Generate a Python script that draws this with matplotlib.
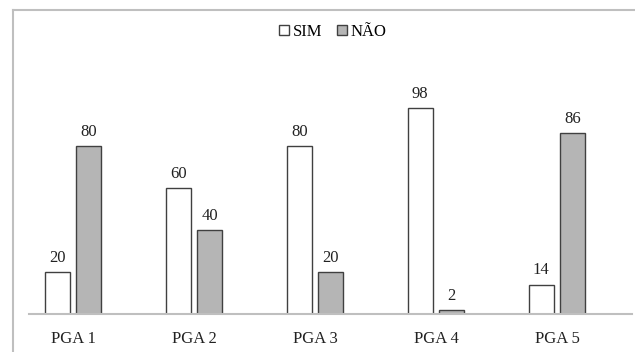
import matplotlib.pyplot as plt
import numpy as np
from matplotlib.patches import Rectangle
from matplotlib.lines import Line2D

categories = ["PGA 1", "PGA 2", "PGA 3", "PGA 4", "PGA 5"]
sim = [20, 60, 80, 98, 14]
nao = [80, 40, 20, 2, 86]

plt.rcParams['font.family'] = ['Liberation Serif', 'DejaVu Serif']

W, H = 635, 352
fig = plt.figure(figsize=(W / 100, H / 100), dpi=100)

# axes placed so the baseline sits near the bottom, spanning almost full width
left_px, right_px, bottom_px, top_px = 29, 632, 314, 10
ax = fig.add_axes([left_px / W, 1 - bottom_px / H, (right_px - left_px) / W, (bottom_px - top_px) / H])

x = np.arange(len(categories))
bw = 0.205
off = 0.13
edge = '#404040'
b1 = ax.bar(x - off, sim, bw, color='white', edgecolor=edge, linewidth=1.0, label='SIM')
b2 = ax.bar(x + off, nao, bw, color='#b5b5b5', edgecolor=edge, linewidth=1.0, label='NÃO')

for rects, vals in ((b1, sim), (b2, nao)):
    for r, v in zip(rects, vals):
        ax.text(r.get_x() + r.get_width() / 2, v + 3, str(v), ha='center', va='bottom',
                fontsize=12, color='#222222')

ax.set_xlim((left_px - 73) / 121, (right_px - 73) / 121)
ax.set_ylim(0, (bottom_px - top_px) / 2.1)
ax.set_xticks(x)
ax.set_xticklabels(categories, fontsize=12, color='#222222')
ax.tick_params(axis='x', length=0, pad=12)
ax.set_yticks([])
for s in ('left', 'right', 'top'):
    ax.spines[s].set_visible(False)
ax.spines['bottom'].set_color('#bfbfbf')
ax.spines['bottom'].set_linewidth(1.5)
ax.patch.set_alpha(0)

handles = [Rectangle((0, 0), 1, 1, facecolor='white', edgecolor=edge, linewidth=1.0),
           Rectangle((0, 0), 1, 1, facecolor='#b5b5b5', edgecolor=edge, linewidth=1.0)]
fig.legend(handles, ['SIM', 'NÃO'], loc='center', bbox_to_anchor=(333 / W, 1 - 32 / H),
           ncol=2, frameon=False, fontsize=12, handlelength=0.6, handleheight=0.6,
           handletextpad=0.2, columnspacing=0.9)

# outer frame of the chart area (left and top edges visible)
fig.add_artist(Line2D([13 / W, 13 / W], [1 - 10 / H, 0], transform=fig.transFigure,
                      color='#bfbfbf', linewidth=1.5))
fig.add_artist(Line2D([13 / W, 1], [1 - 10 / H, 1 - 10 / H], transform=fig.transFigure,
                      color='#bfbfbf', linewidth=1.5))

fig.savefig('out.png', dpi=100)
